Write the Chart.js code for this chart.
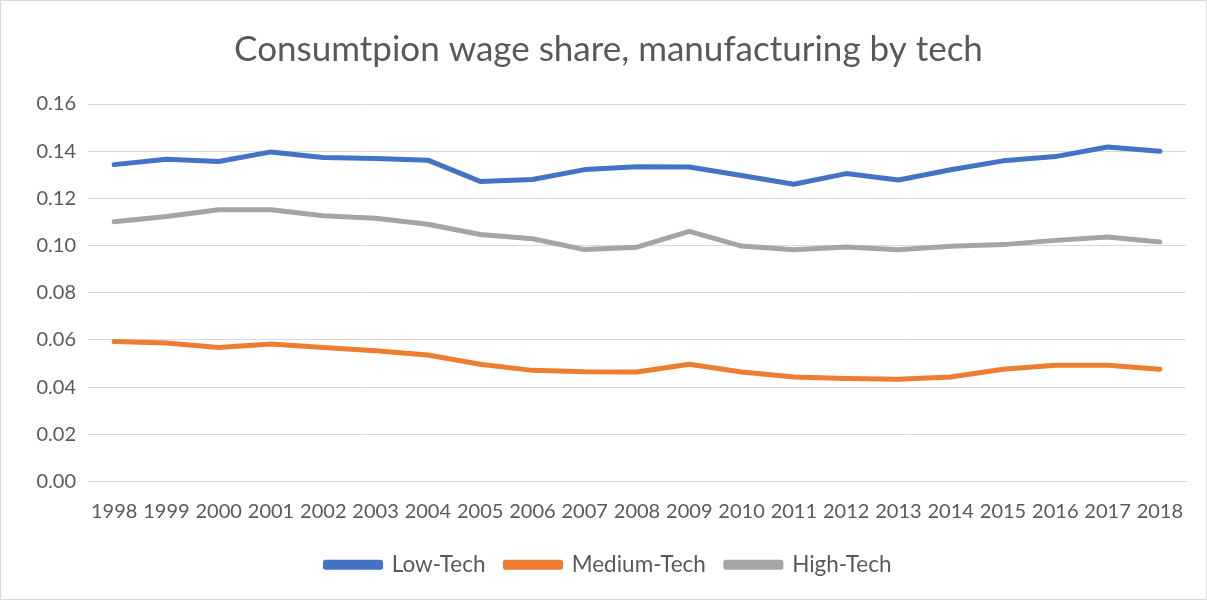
<!DOCTYPE html>
<html>
<head>
<meta charset="utf-8">
<script src="https://cdn.jsdelivr.net/npm/chart.js@4/dist/chart.umd.min.js"></script>
<style>
  body { margin: 0; background: #fff; }
  .frame { width: 1207px; height: 600px; box-sizing: border-box; border: 1px solid #d9d9d9; }
  canvas { display: block; }
</style>
</head>
<body>
<div class="frame"><canvas id="wageChart" width="1205" height="598"></canvas></div>
<script>
const years = ['1998','1999','2000','2001','2002','2003','2004','2005','2006','2007',
  '2008','2009','2010','2011','2012','2013','2014','2015','2016','2017','2018'];
const lowTech = [0.1343,0.1366,0.1356,0.1397,0.1373,0.1369,0.1362,0.1272,0.1280,0.1322,
  0.1334,0.1333,0.1297,0.1260,0.1305,0.1278,0.1321,0.1359,0.1377,0.1418,0.1400];
const mediumTech = [0.0593,0.0587,0.0568,0.0583,0.0568,0.0554,0.0536,0.0497,0.0471,0.0465,
  0.0464,0.0497,0.0464,0.0443,0.0437,0.0433,0.0443,0.0476,0.0493,0.0493,0.0476];
const highTech = [0.1101,0.1123,0.1152,0.1152,0.1126,0.1116,0.1090,0.1047,0.1029,0.0983,
  0.0993,0.1060,0.0998,0.0982,0.0994,0.0982,0.0997,0.1004,0.1022,0.1036,0.1015];

const textColor = '#595959';
const fontFamily = 'Lato, "Open Sans", sans-serif';

function series(label, data, color) {
  return {
    label: label,
    data: data,
    borderColor: color,
    backgroundColor: color,
    borderWidth: 5,
    borderCapStyle: 'round',
    borderJoinStyle: 'round',
    pointRadius: 0,
    tension: 0,
    fill: false
  };
}

new Chart(document.getElementById('wageChart'), {
  type: 'line',
  data: {
    labels: years,
    datasets: [
      series('Low-Tech', lowTech, '#4472C4'),
      series('Medium-Tech', mediumTech, '#ED7D31'),
      series('High-Tech', highTech, '#A5A5A5')
    ]
  },
  options: {
    responsive: false,
    animation: false,
    layout: { padding: { left: 30, right: 20, top: 28, bottom: 13 } },
    plugins: {
      title: {
        display: true,
        text: 'Consumtpion wage share, manufacturing by tech',
        color: textColor,
        font: { family: fontFamily, size: 35, weight: 'normal' },
        padding: { top: 0, bottom: 33 }
      },
      legend: {
        position: 'bottom',
        labels: {
          color: textColor,
          font: { family: fontFamily, size: 22.5 },
          boxWidth: 55,
          boxHeight: 5,
          padding: 20
        }
      },
      tooltip: { enabled: false }
    },
    scales: {
      x: {
        offset: true,
        grid: { display: false },
        border: { color: '#d9d9d9' },
        ticks: {
          color: textColor,
          font: { family: fontFamily, size: 20 },
          maxRotation: 0,
          autoSkip: false,
          padding: 10
        }
      },
      y: {
        min: 0,
        max: 0.16,
        afterFit: function (axis) { axis.width = 57; },
        grid: { color: '#d9d9d9', lineWidth: 1, drawTicks: false },
        border: { display: false },
        ticks: {
          stepSize: 0.02,
          color: textColor,
          font: { family: fontFamily, size: 20 },
          padding: 12,
          callback: function (v) { return v.toFixed(2); }
        }
      }
    }
  }
});
</script>
</body>
</html>
